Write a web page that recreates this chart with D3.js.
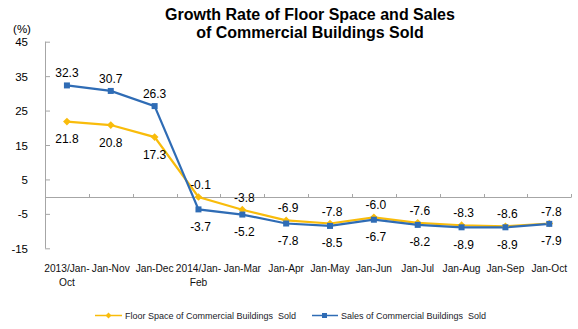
<!DOCTYPE html>
<html><head><meta charset="utf-8">
<script src="https://cdn.jsdelivr.net/npm/d3@7"></script>
<style>
html,body{margin:0;padding:0;background:#fff;}
svg{display:block;font-family:Arial,"Liberation Sans",sans-serif;}
</style></head>
<body>
<svg id="c" width="578" height="329"></svg>
<script>
const categories = ["2013/Jan-Oct","Jan-Nov","Jan-Dec","2014/Jan-Feb","Jan-Mar","Jan-Apr","Jan-May","Jan-Jun","Jan-Jul","Jan-Aug","Jan-Sep","Jan-Oct"];
const floorSpace = [21.8,20.8,17.3,-0.1,-3.8,-6.9,-7.8,-6.0,-7.6,-8.3,-8.6,-7.8];
const sales = [32.3,30.7,26.3,-3.7,-5.2,-7.8,-8.5,-6.7,-8.2,-8.9,-8.9,-7.9];
const yTicks = [45,35,25,15,5,-5,-15];
const titleLines = ["Growth Rate of Floor Space and Sales","of Commercial Buildings Sold"];
const seriesNames = ["Floor Space of Commercial Buildings  Sold","Sales of Commercial Buildings  Sold"];

const svg = d3.select("#c");
const yellow = "#F9BC0B", blue = "#2F6CB5", axisCol = "#A6A6A6";
const loc = d3.formatLocale({decimal:".", thousands:",", grouping:[3], currency:["",""], minus:"-"});
const fmt = loc.format(".1f");

const x = d3.scaleBand().domain(categories).range([45, 571.2]).padding(0);
const y = d3.scaleLinear().domain([-15,45]).range([248.3, 41.7]);
const cx = d => x(d) + x.bandwidth()/2;

// title
svg.append("text").attr("x",310).attr("y",19.5).attr("text-anchor","middle")
  .attr("font-size",16).attr("font-weight","bold").text(titleLines[0]);
svg.append("text").attr("x",310).attr("y",37.5).attr("text-anchor","middle")
  .attr("font-size",16).attr("font-weight","bold").text(titleLines[1]);
svg.append("text").attr("x",22).attr("y",33.3).attr("text-anchor","middle")
  .attr("font-size",11.5).text("(%)");

// y axis
const yAxis = d3.axisRight(y).tickValues(yTicks).tickSize(5).tickFormat("");
const ya = svg.append("g").attr("transform","translate(45,0)").call(yAxis);
ya.select(".domain").attr("stroke",axisCol).attr("d","M0.5,"+y(45)+"V"+y(-15));
ya.selectAll(".tick line").attr("stroke",axisCol);
svg.append("g").selectAll("text").data(yTicks).join("text")
  .attr("x",28).attr("y",d=>y(d)+4.5).attr("text-anchor","end").attr("font-size",11.5)
  .text(d=>String(d));

// x axis at zero
const y0 = Math.round(y(0))+0.5;
svg.append("line").attr("x1",45).attr("x2",571.2).attr("y1",y0).attr("y2",y0).attr("stroke",axisCol);
svg.append("g").selectAll("line").data(categories).join("line")
  .attr("x1",(d,i)=>Math.round(45 + x.bandwidth()*(i+1))+0.5)
  .attr("x2",(d,i)=>Math.round(45 + x.bandwidth()*(i+1))+0.5)
  .attr("y1",y0).attr("y2",y0-3.5).attr("stroke",axisCol);

// x labels
const xl = svg.append("g").attr("font-size",10.2).attr("fill","#111");
categories.forEach(c=>{
  let lines = c.includes("/") ? [c.slice(0,c.indexOf("Jan-")+4), c.slice(c.indexOf("Jan-")+4)] : [c];
  lines.forEach((l,j)=>{
    xl.append("text").attr("x",cx(c)).attr("y",271.5+j*14.5).attr("text-anchor","middle").text(l);
  });
});

// lines
const line = d3.line().x((d,i)=>cx(categories[i])).y(d=>y(d));
svg.append("path").datum(floorSpace).attr("d",line).attr("fill","none").attr("stroke",yellow).attr("stroke-width",2.2);
svg.append("path").datum(sales).attr("d",line).attr("fill","none").attr("stroke",blue).attr("stroke-width",2.2);

const diamond = d3.symbol().type(d3.symbolDiamond2).size(38);
svg.append("g").selectAll("path").data(floorSpace).join("path")
  .attr("d",diamond).attr("fill",yellow)
  .attr("transform",(d,i)=>`translate(${cx(categories[i])},${y(d)})`);
svg.append("g").selectAll("rect").data(sales).join("rect")
  .attr("x",(d,i)=>cx(categories[i])-3).attr("y",d=>y(d)-3).attr("width",6).attr("height",6).attr("fill",blue);

// data labels
const lab = svg.append("g").attr("font-size",12).attr("fill","#000").attr("text-anchor","middle");
floorSpace.forEach((v,i)=>{
  const below = i<3;
  lab.append("text").attr("x",cx(categories[i])+(v<0?2:0)).attr("y",y(v)+(below?21.5:-8)).text(fmt(v));
});
sales.forEach((v,i)=>{
  const below = i>=3;
  lab.append("text").attr("x",cx(categories[i])+(v<0?2:0)).attr("y",y(v)+(below?21.5:-8)).text(fmt(v));
});

// legend
const lg = svg.append("g").attr("font-size",9).attr("fill","#1a1a2a");
lg.append("line").attr("x1",95).attr("x2",122).attr("y1",315.5).attr("y2",315.5).attr("stroke",yellow).attr("stroke-width",1.5);
lg.append("path").attr("d",d3.symbol().type(d3.symbolDiamond2).size(22)).attr("fill",yellow).attr("transform","translate(108.5,315.5)");
lg.append("text").attr("x",125).attr("y",318.6).text(seriesNames[0]).style("white-space","pre");
lg.append("line").attr("x1",312).attr("x2",338).attr("y1",315.5).attr("y2",315.5).attr("stroke",blue).attr("stroke-width",1.5);
lg.append("rect").attr("x",322).attr("y",313).attr("width",5).attr("height",5).attr("fill",blue);
lg.append("text").attr("x",341).attr("y",318.6).text(seriesNames[1]).style("white-space","pre");
</script>
</body></html>
